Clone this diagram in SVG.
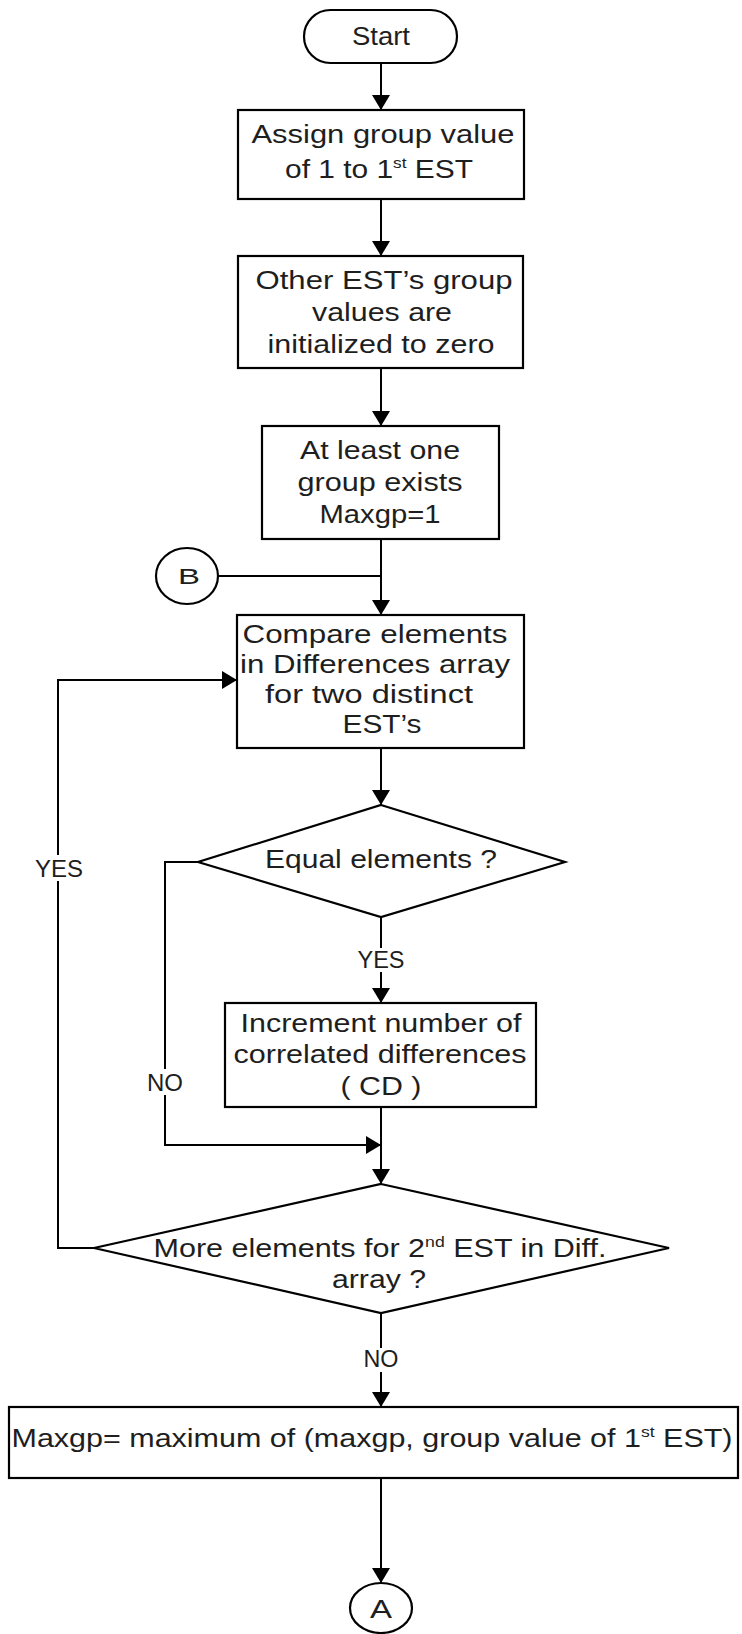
<svg xmlns="http://www.w3.org/2000/svg" width="742" height="1634" viewBox="0 0 742 1634">
  <defs>
    <marker id="arrow" viewBox="0 0 15 18" refX="15" refY="9" markerWidth="15" markerHeight="18" markerUnits="userSpaceOnUse" orient="auto">
      <path d="M0,0 L15,9 L0,18 Z" fill="#000"/>
    </marker>
    <style>
      .shape { fill: #fff; stroke: #000; stroke-width: 2.2; }
      .line { fill: none; stroke: #000; stroke-width: 2; }
      .arr { marker-end: url(#arrow); }
      text { font-family: "Liberation Sans", Arial, sans-serif; font-size: 26px; fill: #1e1e1e; text-anchor: middle; }
      .lbl { font-size: 24px; }
      .sup { font-size: 15px; }
      .mask { fill: #fff; stroke: none; }
    </style>
  </defs>
  <rect width="742" height="1634" fill="#fff"/>

  <!-- connectors -->
  <g id="connectors">
    <path class="line arr" d="M381,63 V110"/>
    <path class="line arr" d="M381,199 V256"/>
    <path class="line arr" d="M381,368 V426"/>
    <path class="line arr" d="M381,539 V615"/>
    <path class="line" d="M218,576 H381"/>
    <path class="line arr" d="M381,748 V805"/>
    <path class="line" d="M381,917 V948"/>
    <path class="line arr" d="M381,972 V1003"/>
    <path class="line arr" d="M198,862 H165 V1145 H381"/>
    <path class="line arr" d="M381,1107 V1184"/>
    <path class="line arr" d="M94,1248 H58 V680 H237"/>
    <path class="line" d="M381,1313 V1348"/>
    <path class="line arr" d="M381,1372 V1407"/>
    <path class="line arr" d="M381,1478 V1583"/>
    <!-- branch labels -->
    <rect class="mask" x="33" y="855" width="52" height="26"/>
    <text class="lbl" x="59" y="877" textLength="48" lengthAdjust="spacingAndGlyphs">YES</text>
    <text class="lbl" x="381" y="968" textLength="47" lengthAdjust="spacingAndGlyphs">YES</text>
    <rect class="mask" x="145" y="1069" width="40" height="26"/>
    <text class="lbl" x="165" y="1091" textLength="36" lengthAdjust="spacingAndGlyphs">NO</text>
    <text class="lbl" x="381" y="1367" textLength="35" lengthAdjust="spacingAndGlyphs">NO</text>
  </g>

  <g id="start">
    <rect class="shape" x="304" y="10" width="153" height="53" rx="26.5"/>
    <text x="381" y="45" textLength="58" lengthAdjust="spacingAndGlyphs">Start</text>
  </g>

  <g id="assign-group">
    <rect class="shape" x="238" y="110" width="286" height="89"/>
    <text x="383" y="143" textLength="263" lengthAdjust="spacingAndGlyphs">Assign group value</text>
    <text x="379" y="178" textLength="188" lengthAdjust="spacingAndGlyphs">of 1 to 1<tspan class="sup" dy="-10">st</tspan><tspan dy="10"> EST</tspan></text>
  </g>

  <g id="init-others">
    <rect class="shape" x="238" y="256" width="285" height="112"/>
    <text x="384" y="289" textLength="257" lengthAdjust="spacingAndGlyphs">Other EST’s group</text>
    <text x="382" y="321" textLength="140" lengthAdjust="spacingAndGlyphs">values are</text>
    <text x="381" y="353" textLength="227" lengthAdjust="spacingAndGlyphs">initialized to zero</text>
  </g>

  <g id="max-init">
    <rect class="shape" x="262" y="426" width="237" height="113"/>
    <text x="380" y="459" textLength="160" lengthAdjust="spacingAndGlyphs">At least one</text>
    <text x="380" y="491" textLength="165" lengthAdjust="spacingAndGlyphs">group exists</text>
    <text x="380" y="523" textLength="121" lengthAdjust="spacingAndGlyphs">Maxgp=1</text>
  </g>

  <g id="connector-b">
    <ellipse class="shape" cx="187" cy="576" rx="31" ry="28"/>
    <text x="189" y="584" style="font-size:22px" textLength="22" lengthAdjust="spacingAndGlyphs">B</text>
  </g>

  <g id="compare">
    <rect class="shape" x="237" y="615" width="287" height="133"/>
    <text x="375" y="643" textLength="265" lengthAdjust="spacingAndGlyphs">Compare elements</text>
    <text x="375" y="673" textLength="270" lengthAdjust="spacingAndGlyphs">in Differences array</text>
    <text x="369" y="703" textLength="208" lengthAdjust="spacingAndGlyphs">for two distinct</text>
    <text x="382" y="733" textLength="79" lengthAdjust="spacingAndGlyphs">EST’s</text>
  </g>

  <g id="equal-decision">
    <polygon class="shape" points="381,805 565,862 381,917 198,862"/>
    <text x="381" y="868" textLength="232" lengthAdjust="spacingAndGlyphs">Equal elements ?</text>
  </g>

  <g id="increment-cd">
    <rect class="shape" x="225" y="1003" width="311" height="104"/>
    <text x="381" y="1032" textLength="281" lengthAdjust="spacingAndGlyphs">Increment number of</text>
    <text x="380" y="1063" textLength="293" lengthAdjust="spacingAndGlyphs">correlated differences</text>
    <text x="381" y="1095" textLength="81" lengthAdjust="spacingAndGlyphs">( CD )</text>
  </g>

  <g id="more-decision">
    <polygon class="shape" points="381,1184 669,1248 381,1313 94,1248"/>
    <text x="380" y="1257" textLength="453" lengthAdjust="spacingAndGlyphs">More elements for 2<tspan class="sup" dy="-10">nd</tspan><tspan dy="10"> EST in Diff.</tspan></text>
    <text x="379" y="1288" textLength="94" lengthAdjust="spacingAndGlyphs">array ?</text>
  </g>

  <g id="update-max">
    <rect class="shape" x="9" y="1407" width="729" height="71"/>
    <text x="372" y="1447" textLength="721" lengthAdjust="spacingAndGlyphs">Maxgp= maximum of (maxgp, group value of 1<tspan class="sup" dy="-10">st</tspan><tspan dy="10"> EST)</tspan></text>
  </g>

  <g id="connector-a">
    <ellipse class="shape" cx="381" cy="1608" rx="31" ry="25"/>
    <text x="381" y="1618" textLength="22" lengthAdjust="spacingAndGlyphs">A</text>
  </g>
</svg>
